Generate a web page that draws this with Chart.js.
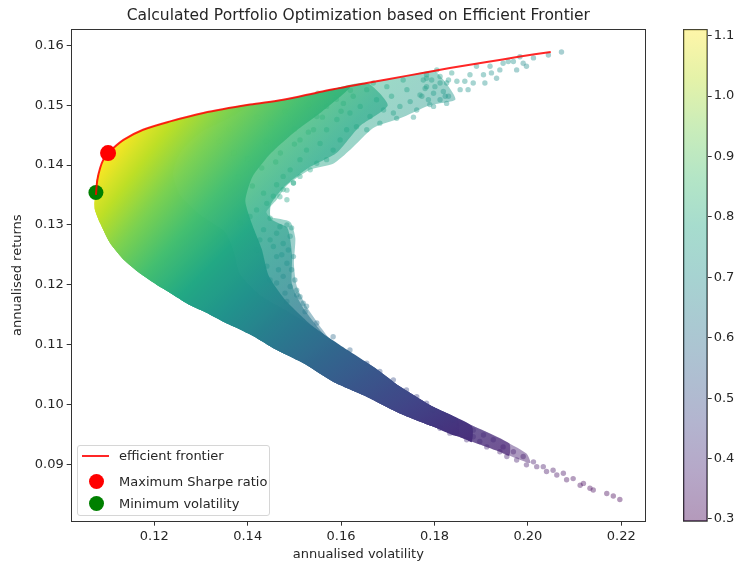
<!DOCTYPE html>
<html>
<head>
<meta charset="utf-8">
<title>Efficient Frontier</title>
<script src="https://cdn.jsdelivr.net/npm/chart.js@4/dist/chart.umd.min.js"></script>
<style>
  html, body { margin: 0; padding: 0; background: #fff; }
  #wrap { position: relative; width: 739px; height: 564px; font-family: 'DejaVu Sans', sans-serif; color: #262626; }
  #wrap canvas { position: absolute; top: 0; }
  #main { left: 0; }
  #cbar { left: 660px; }
  #legend { position: absolute; left: 77px; top: 445px; width: 193px; height: 71px; box-sizing: border-box;
            border: 1px solid #d6d6d6; border-radius: 3px; background: rgba(255,255,255,0.8); font-size: 13px; z-index: 2; }
  #legend .row { position: absolute; left: 0; width: 100%; height: 16px; }
  #legend .txt { position: absolute; left: 41px; top: 0; line-height: 16px; white-space: nowrap; }
  #legend .line { position: absolute; left: 4px; top: 7px; width: 27px; height: 2px; background: rgba(255,0,0,0.85); }
  #legend .dot { position: absolute; left: 11px; top: 0; width: 15px; height: 15px; border-radius: 50%; }
</style>
</head>
<body>
<div id="wrap">
  <canvas id="main" width="739" height="564"></canvas>
  <canvas id="cbar" width="79" height="564"></canvas>
  <div id="legend">
    <div class="row" style="top:2px"><span class="line"></span><span class="txt">efficient frontier</span></div>
    <div class="row" style="top:28px"><span class="dot" style="background:#ff0000"></span><span class="txt">Maximum Sharpe ratio</span></div>
    <div class="row" style="top:50px"><span class="dot" style="background:#008000"></span><span class="txt">Minimum volatility</span></div>
  </div>
</div>
<script>
// ---- data -------------------------------------------------------------
const riskFree = 0.0196;
const sharpeMin = 0.2955;
const sharpeMax = 1.111;

const volTicks = [0.12, 0.14, 0.16, 0.18, 0.20, 0.22];
const retTicks = [0.09, 0.10, 0.11, 0.12, 0.13, 0.14, 0.15, 0.16];
const sharpeTicks = [0.3, 0.4, 0.5, 0.6, 0.7, 0.8, 0.9, 1.0, 1.1];

// efficient frontier (volatility, return)
const frontierVol = [0.1075, 0.1078, 0.1084, 0.1091, 0.1101, 0.1134, 0.1176, 0.1234, 0.1305, 0.1405, 0.1476, 0.1560, 0.1655, 0.1740, 0.1833, 0.1912, 0.1980, 0.2049];
const frontierRet = [0.1350, 0.1375, 0.1395, 0.1409, 0.1420, 0.1442, 0.1459, 0.1473, 0.1487, 0.1501, 0.1509, 0.1523, 0.1537, 0.1549, 0.1562, 0.1572, 0.1581, 0.1589];

const maxSharpe = [0.1101, 0.1420];
const minVolatility = [0.1075, 0.1354];

// lower (minimum-variance) edge of the simulated cloud, right to left
const lowerEdge = [
  [0.1940,0.0921],[0.1869,0.0941],[0.1797,0.0963],[0.1726,0.0985],[0.1655,0.1013],[0.1583,0.1038],[0.1526,0.1066],
  [0.1491,0.1080],[0.1455,0.1094],[0.1419,0.1111],[0.1384,0.1125],[0.1348,0.1138],[0.1312,0.1153],[0.1276,0.1166],
  [0.1241,0.1183],[0.1205,0.1200],[0.1169,0.1219],[0.1134,0.1242],[0.1105,0.1270],[0.1084,0.1303],[0.1073,0.1325],
  [0.1072,0.1335]
];

// upper edge along the frontier, left to right
const upperEdge = [
  [0.1072,0.1335],[0.1074,0.1354],[0.1078,0.1380],[0.1091,0.1409],[0.1101,0.1420],[0.1134,0.1442],[0.1176,0.1459],
  [0.1234,0.1473],[0.1305,0.1487],[0.1405,0.1501],[0.1476,0.1509],[0.1560,0.1523],[0.1655,0.1537],[0.1740,0.1549],
  [0.1800,0.1557],[0.1850,0.1563]
];

// right-hand (inner) boundaries of the four density layers
const cloudInner = [
  [0.1845,0.1510],[0.1790,0.1500],[0.1726,0.1478],[0.1669,0.1462],[0.1619,0.1425],[0.1583,0.1402],[0.1533,0.1392],
  [0.1484,0.1366],[0.1462,0.1342],[0.1440,0.1322],[0.1448,0.1313],[0.1491,0.1305],[0.1502,0.1278],[0.1499,0.1235],
  [0.1505,0.1198],[0.1525,0.1165],[0.1560,0.1125],[0.1583,0.1102],[0.1619,0.1086],[0.1676,0.1052],[0.1726,0.1030],
  [0.1797,0.0996],[0.1869,0.0969],[0.1940,0.0943],[0.1997,0.0918],[0.2005,0.0902]
];
const denseInner = [
  [0.1700,0.1500],[0.1640,0.1465],[0.1590,0.1420],[0.1530,0.1395],[0.1480,0.1365],[0.1450,0.1335],[0.1450,0.1310],
  [0.1485,0.1295],[0.1495,0.1250],[0.1495,0.1200],[0.1520,0.1160],[0.1583,0.1100],[0.1676,0.1052],[0.1726,0.1030],
  [0.1797,0.0996],[0.1869,0.0969],[0.1960,0.0935],[0.1960,0.0914]
];
const packedInner = [
  [0.1620,0.1531],[0.1560,0.1490],[0.1500,0.1455],[0.1450,0.1420],[0.1410,0.1380],[0.1395,0.1340],[0.1410,0.1300],
  [0.1430,0.1260],[0.1445,0.1215],[0.1480,0.1175],[0.1540,0.1130],[0.1600,0.1095],[0.1673,0.1061],[0.1726,0.1030],
  [0.1797,0.0996],[0.1880,0.0964],[0.1880,0.0937]
];
const coreInner = [
  [0.1405,0.1501],[0.1360,0.1478],[0.1300,0.1455],[0.1255,0.1420],[0.1240,0.1385],[0.1255,0.1350],[0.1298,0.1317],
  [0.1352,0.1288],[0.1369,0.1258],[0.1384,0.1217],[0.1426,0.1183],[0.1480,0.1158],[0.1533,0.1133],[0.1598,0.1099],
  [0.1673,0.1061],[0.1726,0.1030],[0.1797,0.0996],[0.1850,0.0975],[0.1850,0.0947]
];

// individual portfolios in the sparse parts of the cloud
const portfolios = [
  [0.1776,0.1542],[0.1783,0.1551],[0.1794,0.1542],[0.1801,0.1531],[0.1812,0.1548],[0.1819,0.1523],[0.1826,0.1537],
  [0.1830,0.1515],[0.1837,0.1554],[0.1848,0.1540],[0.1855,0.1526],[0.1865,0.1540],[0.1872,0.1526],[0.1876,0.1551],
  [0.1883,0.1537],[0.1890,0.1565],[0.1905,0.1551],[0.1908,0.1537],[0.1919,0.1565],[0.1922,0.1554],[0.1933,0.1545],
  [0.1940,0.1559],[0.1947,0.1570],[0.1958,0.1573],[0.1969,0.1573],[0.1976,0.1559],[0.1983,0.1581],[0.1990,0.1570],
  [0.1997,0.1565],[0.2012,0.1579],[0.2044,0.1584],[0.2072,0.1589],[0.1773,0.1515],[0.1787,0.1509],[0.1798,0.1498],
  [0.1812,0.1509],[0.1826,0.1503],[0.1780,0.1528],[0.1805,0.1559],
  [0.1626,0.1515],[0.1641,0.1498],[0.1655,0.1526],[0.1662,0.1481],[0.1676,0.1509],[0.1691,0.1492],[0.1698,0.1531],
  [0.1708,0.1515],[0.1719,0.1478],[0.1726,0.1498],[0.1741,0.1526],[0.1748,0.1506],[0.1762,0.1492],[0.1769,0.1517],
  [0.1783,0.1531],[0.1790,0.1501],[0.1798,0.1520],[0.1812,0.1537],[0.1823,0.1515],[0.1830,0.1542],[0.1633,0.1464],
  [0.1655,0.1459],[0.1683,0.1470],[0.1712,0.1487],[0.1619,0.1487],[0.1669,0.1537],[0.1733,0.1542],[0.1755,0.1480],
  [0.1783,0.1545],[0.1598,0.1442],[0.1612,0.1459],[0.1583,0.1425],[0.1569,0.1409],[0.1548,0.1403],[0.1534,0.1392],
  [0.1512,0.1381],[0.1498,0.1370],[0.1484,0.1358],[0.1469,0.1347],[0.1591,0.1476],[0.1605,0.1503],[0.1569,0.1459],
  [0.1555,0.1436],[0.1526,0.1425],[0.1512,0.1409],[0.1491,0.1392],[0.1541,0.1459],[0.1569,0.1498],[0.1583,0.1520],
  [0.1548,0.1481],[0.1512,0.1442],[0.1476,0.1381],
  [0.1448,0.1311],[0.1469,0.1297],[0.1484,0.1300],[0.1494,0.1295],[0.1491,0.1281],[0.1476,0.1269],[0.1487,0.1258],
  [0.1498,0.1247],[0.1484,0.1236],[0.1494,0.1225],[0.1501,0.1208],[0.1491,0.1197],[0.1505,0.1191],[0.1512,0.1180],
  [0.1519,0.1169],[0.1476,0.1214],[0.1462,0.1247],[0.1448,0.1275],[0.1462,0.1286],[0.1434,0.1292],[0.1441,0.1231],
  [0.1462,0.1203],[0.1480,0.1186],[0.1455,0.1264],[0.1473,0.1250],[0.1505,0.1183],[0.1526,0.1164],[0.1523,0.1155],
  [0.1426,0.1275],[0.1419,0.1258],[0.1466,0.1225],[0.1448,0.1208],[0.1484,0.1172],
  [0.1498,0.1370],[0.1476,0.1359],[0.1455,0.1348],[0.1441,0.1336],[0.1419,0.1325],[0.1405,0.1314],[0.1384,0.1303],
  [0.1462,0.1367],[0.1484,0.1342],[0.1434,0.1353],
  [0.1548,0.1136],[0.1583,0.1113],[0.1619,0.1091],[0.1655,0.1069],[0.1683,0.1055],[0.1712,0.1041],[0.1740,0.1024],
  [0.1762,0.1013],[0.1783,0.1002],[0.1797,0.0991],[0.1819,0.0982],[0.1840,0.0974],[0.1855,0.0968],[0.1883,0.0957],
  [0.1905,0.0949],[0.1926,0.0941],[0.1947,0.0929],[0.1969,0.0921],[0.1990,0.0913],[0.2012,0.0904],[0.2033,0.0896],
  [0.2054,0.0890],[0.2076,0.0885],[0.2097,0.0876],[0.2119,0.0868],[0.2133,0.0860],[0.2169,0.0851],[0.2183,0.0847],
  [0.2197,0.0841],[0.1869,0.0941],[0.1912,0.0929],[0.1955,0.0913],[0.1997,0.0899],[0.2040,0.0888],[0.2083,0.0874],
  [0.2112,0.0865],[0.2140,0.0857],[0.1976,0.0907],[0.2019,0.0896],[0.2062,0.0882],[0.1940,0.0921],[0.1897,0.0938],
  [0.1833,0.0952],[0.1812,0.0960],[0.1847,0.0955],[0.1883,0.0946],
  [0.1420,0.1480],[0.1450,0.1470],[0.1480,0.1490],[0.1500,0.1460],[0.1530,0.1500],[0.1560,0.1480],[0.1590,0.1510],
  [0.1620,0.1525],[0.1440,0.1440],[0.1470,0.1420],[0.1500,0.1435],[0.1530,0.1455],[0.1400,0.1410],[0.1430,0.1395],
  [0.1460,0.1405],[0.1380,0.1380],[0.1410,0.1365],[0.1370,0.1420],[0.1340,0.1440],[0.1360,0.1460],[0.1550,0.1520],
  [0.1600,0.1490]
];

// ---- colour helpers ---------------------------------------------------
const VIRIDIS = [[68,1,84],[72,36,117],[65,68,135],[53,95,141],[42,120,142],[33,145,140],
                 [34,168,132],[68,191,112],[122,209,81],[189,223,38],[253,231,37]];

function viridis(t, alpha) {
  t = Math.min(1, Math.max(0, t));
  const p = t * (VIRIDIS.length - 1);
  const i = Math.min(VIRIDIS.length - 2, Math.floor(p));
  const f = p - i;
  const a = VIRIDIS[i], b = VIRIDIS[i + 1];
  const c = a.map((v, k) => Math.round(v + (b[k] - v) * f));
  return `rgba(${c[0]},${c[1]},${c[2]},${alpha})`;
}

const sharpeNorm = s => (s - sharpeMin) / (sharpeMax - sharpeMin);
const sharpeOf = (vol, ret) => (ret - riskFree) / vol;

// Sharpe ratio is constant along rays from (0, riskFree), so a conic
// gradient centred there paints the cloud by Sharpe ratio.
function sharpeFill(chart, alpha) {
  const { ctx, chartArea, scales } = chart;
  if (!chartArea || !scales.x || !scales.y) return 'rgba(0,0,0,0)';
  const xs = scales.x, ys = scales.y;
  const cx = xs.getPixelForValue(0), cy = ys.getPixelForValue(riskFree);
  const start = -Math.PI / 2;
  const g = ctx.createConicGradient(start, cx, cy);
  const n = 60, stops = [];
  for (let k = 0; k <= n; k++) {
    const s = sharpeMin + (sharpeMax - sharpeMin) * k / n;
    const px = xs.getPixelForValue(0.1), py = ys.getPixelForValue(riskFree + 0.1 * s);
    let f = (Math.atan2(py - cy, px - cx) - start) / (2 * Math.PI);
    f = ((f % 1) + 1) % 1;
    stops.push([f, viridis(k / n, alpha)]);
  }
  stops.sort((a, b) => a[0] - b[0]);
  stops.forEach(([f, c]) => g.addColorStop(f, c));
  return g;
}

const toPoints = arr => arr.map(([x, y]) => ({ x, y }));
const FONT = { family: "'DejaVu Sans', sans-serif", size: 13 };
const INK = '#262626';

// closed outline: frontier edge up to the layer's reach, its inner boundary,
// then back along the lower edge from where that boundary meets it
function layerOutline(inner) {
  const reach = inner[0][0];
  const top = upperEdge.filter(p => p[0] < reach - 1e-9);
  const end = inner[inner.length - 1][0];
  const bottom = lowerEdge.filter(p => p[0] < end - 1e-9);
  return [...top, ...inner, ...bottom];
}

const framePlugin = {
  id: 'frame',
  afterDraw(chart) {
    const { ctx, chartArea: a } = chart;
    const l = Math.round(a.left) + 0.5, t = Math.round(a.top) + 0.5;
    const r = Math.round(a.right) - 0.5, b = Math.round(a.bottom) - 0.5;
    ctx.save();
    ctx.strokeStyle = '#333';
    ctx.lineWidth = 1;
    ctx.strokeRect(l, t, r - l, b - t);
    ctx.restore();
  }
};

const areaDataset = (label, inner, alpha, order) => ({
  type: 'line',
  label,
  data: toPoints(layerOutline(inner)),
  fill: 'shape',
  tension: 0.2,
  pointRadius: 0,
  borderWidth: 0,
  borderColor: 'rgba(0,0,0,0)',
  backgroundColor: ctx => sharpeFill(ctx.chart, alpha),
  order
});

new Chart(document.getElementById('main'), {
  type: 'scatter',
  data: {
    datasets: [
      {
        label: 'Maximum Sharpe ratio',
        data: [{ x: maxSharpe[0], y: maxSharpe[1] }],
        pointRadius: 8, pointBackgroundColor: '#ff0000', pointBorderWidth: 0,
        order: 0
      },
      {
        type: 'line',
        label: 'efficient frontier',
        data: frontierVol.map((v, i) => ({ x: v, y: frontierRet[i] })),
        borderColor: 'rgba(255,0,0,0.85)', borderWidth: 2, pointRadius: 0,
        tension: 0.3, fill: false,
        order: 1
      },
      {
        label: 'Minimum volatility',
        data: [{ x: minVolatility[0], y: minVolatility[1] }],
        pointRadius: 7.5, pointBackgroundColor: '#008000', pointBorderWidth: 0,
        order: 2
      },
      {
        label: 'portfolios',
        data: toPoints(portfolios),
        pointRadius: 2.7, pointBorderWidth: 0,
        pointBackgroundColor: portfolios.map(([v, r]) => viridis(sharpeNorm(sharpeOf(v, r)), 0.4)),
        order: 3
      },
      areaDataset('core', coreInner, 1, 4),
      areaDataset('packed', packedInner, 0.92, 5),
      areaDataset('dense', denseInner, 0.6, 6),
      areaDataset('cloud', cloudInner, 0.45, 7)
    ]
  },
  options: {
    responsive: false,
    animation: false,
    events: [],
    layout: { padding: { left: 0, right: 93, top: 0, bottom: 0 } },
    plugins: {
      legend: { display: false },
      tooltip: { enabled: false },
      title: {
        display: true,
        fullSize: false,
        text: 'Calculated Portfolio Optimization based on Efficient Frontier',
        color: INK,
        font: { family: FONT.family, size: 15.5, weight: 'normal' },
        padding: { top: 7, bottom: 3 }
      }
    },
    scales: {
      x: {
        type: 'linear',
        min: 0.1021, max: 0.2253,
        afterBuildTicks: s => { s.ticks = volTicks.map(v => ({ value: v })); },
        afterFit: s => { s.height = 42.3; },
        grid: { display: true, drawOnChartArea: false, drawTicks: true, tickLength: 4, tickColor: '#333' },
        border: { display: false },
        ticks: { callback: v => Number(v).toFixed(2), color: INK, font: FONT, padding: 3, maxRotation: 0, autoSkip: false },
        title: { display: true, text: 'annualised volatility', color: INK, font: FONT, padding: { top: 0, bottom: 1.2 } }
      },
      y: {
        type: 'linear',
        min: 0.0804, max: 0.1628,
        afterBuildTicks: s => { s.ticks = retTicks.map(v => ({ value: v })); },
        afterFit: s => { s.width = 70.7; },
        grid: { display: true, drawOnChartArea: false, drawTicks: true, tickLength: 4, tickColor: '#333' },
        border: { display: false },
        ticks: { callback: v => Number(v).toFixed(2), color: INK, font: FONT, padding: 3, autoSkip: false },
        title: { display: true, text: 'annualised returns', color: INK, font: FONT, padding: { top: 9.5, bottom: 0 } }
      }
    }
  },
  plugins: [framePlugin]
});

// ---- colour bar -------------------------------------------------------
function barGradient(chart) {
  const { ctx, chartArea } = chart;
  if (!chartArea) return 'rgba(0,0,0,0)';
  const g = ctx.createLinearGradient(0, chartArea.bottom, 0, chartArea.top);
  for (let k = 0; k <= 20; k++) g.addColorStop(k / 20, viridis(k / 20, 0.4));
  return g;
}

new Chart(document.getElementById('cbar'), {
  type: 'bar',
  data: {
    labels: ['Sharpe ratio'],
    datasets: [{
      data: [[sharpeMin, sharpeMax]],
      backgroundColor: ctx => barGradient(ctx.chart),
      borderColor: '#333', borderWidth: 1, borderSkipped: false,
      barPercentage: 1, categoryPercentage: 1
    }]
  },
  options: {
    responsive: false,
    animation: false,
    events: [],
    layout: { padding: { left: 23, right: 0, top: 29, bottom: 42.3 } },
    plugins: { legend: { display: false }, tooltip: { enabled: false }, title: { display: false } },
    scales: {
      x: { display: false },
      y: {
        position: 'right',
        min: sharpeMin, max: sharpeMax,
        afterBuildTicks: s => { s.ticks = sharpeTicks.map(v => ({ value: v })); },
        afterFit: s => { s.width = 31.3; },
        grid: { display: true, drawOnChartArea: false, drawTicks: true, tickLength: 4, tickColor: '#333' },
        border: { display: false },
        ticks: { callback: v => Number(v).toFixed(1), color: INK, font: FONT, padding: 2, autoSkip: false }
      }
    }
  }
});
</script>
</body>
</html>
